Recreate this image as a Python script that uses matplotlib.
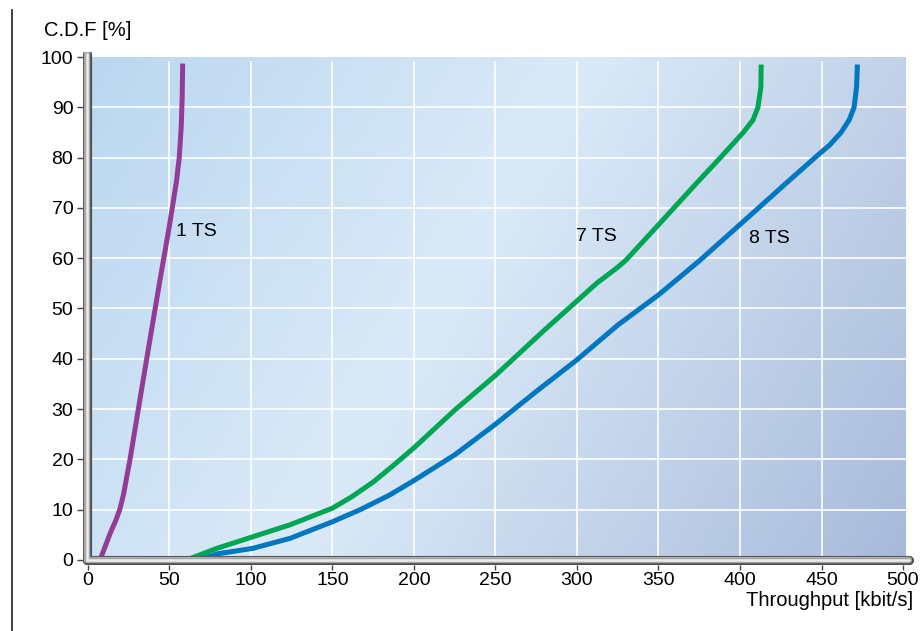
import numpy as np
import matplotlib.pyplot as plt
from matplotlib.lines import Line2D

plt.rcParams['font.family'] = ['Liberation Sans', 'DejaVu Sans']

# data
ts1_x = [7.4, 10, 13.5, 17, 19.5, 21.8, 23.5, 25.8, 35, 44.2, 50, 54.4, 56, 57.2, 57.8, 58.1]
ts1_y = [0, 2.2, 5.2, 7.8, 10, 13, 16, 20, 38, 55.7, 66.5, 75.5, 80, 86, 92, 98.7]

ts7_x = [60.5, 79, 101, 124, 150, 162, 175, 187, 200, 225, 250, 280, 300, 312, 325, 330,
         351, 375, 388, 402, 408, 411, 412.8, 413]
ts7_y = [0, 2.3, 4.6, 7, 10.3, 12.6, 15.5, 18.7, 22.3, 29.8, 36.7, 45.7, 51.5, 55, 58.2, 59.6,
         67, 75.5, 80, 85, 87.5, 90, 94, 98.5]

ts8_x = [68.5, 79, 101, 124, 150, 167, 185, 200, 225, 250, 275, 300, 325, 350, 375.5,
         404.5, 428.6, 446, 455, 462, 467, 470, 471.5, 472]
ts8_y = [0, 1.2, 2.3, 4.3, 7.6, 10, 12.9, 15.8, 20.9, 27, 33.5, 39.8, 46.7, 52.7, 59.6,
         68, 75, 80, 82.5, 85, 87.5, 90, 94, 98.5]

series = [(ts1_x, ts1_y, '#923C98', '1 TS', (54, 65.3), 'left'),
          (ts7_x, ts7_y, '#00A651', '7 TS', (312, 64.4), 'center'),
          (ts8_x, ts8_y, '#0077C0', '8 TS', (418, 64), 'center')]

xticks = [0, 50, 100, 150, 200, 250, 300, 350, 400, 450, 500]
yticks = [0, 10, 20, 30, 40, 50, 60, 70, 80, 90, 100]

fig = plt.figure(figsize=(9.23, 6.31), dpi=100)
ax = fig.add_axes([0.090, 0.1046, 0.9007, 0.813])
ax.set_xlim(-3, 507)
ax.set_ylim(-1, 101)

# gradient background, running from top-left to bottom-right in pixel space
nx, ny = 400, 250
px, py = np.meshgrid(np.linspace(0, 814, nx), np.linspace(0, 498, ny))
t = (px * 814 + py * 498) / (814 ** 2 + 498 ** 2)
stops = [0.0, 0.45, 1.0]
cols = np.array([[0xBA, 0xD7, 0xF0], [0xDB, 0xEA, 0xF8], [0xA8, 0xBA, 0xDB]]) / 255
img = np.zeros((ny, nx, 3))
for k in range(3):
    img[..., k] = np.interp(t, stops, cols[:, k])
ax.imshow(img, extent=(0, 501.5, 0, 100), aspect='auto', zorder=0)

# grid
for xv in xticks[1:-1]:
    ax.plot([xv, xv], [0, 99], color='white', lw=1.2, zorder=1)
for yv in yticks[1:-1]:
    ax.plot([0, 501.5], [yv, yv], color='white', lw=1.2, zorder=1)

# curves
for xs, ys, col, lab, pos, ha in series:
    ax.plot(xs, ys, color=col, lw=3.6, solid_capstyle='butt', solid_joinstyle='round', zorder=3)
    ax.text(pos[0], pos[1], lab, fontsize=14, ha=ha, va='center', zorder=4)

# 3D-looking axis bars
for (xx, yy) in [([-0.5, -0.5], [0, 100.7]), ([-0.5, 503.4], [0, 0])]:
    ax.plot(xx, yy, color='#4d4d4d', lw=6.6, solid_capstyle='round', zorder=5)
    ax.plot(xx, yy, color='#a8a8a8', lw=4.6, solid_capstyle='round', zorder=6)
    ax.plot(xx, yy, color='#ececec', lw=1.8, solid_capstyle='round', zorder=7)

for s in ax.spines.values():
    s.set_visible(False)
ax.set_xticks(xticks)
ax.set_yticks(yticks)
ax.tick_params(axis='both', length=4, width=1, color='#444444', labelsize=14)
ax.tick_params(axis='y', pad=3)
ax.tick_params(axis='x', length=3.5, pad=1.5)

fig.text(44 / 923, 1 - 36 / 631, 'C.D.F [%]', fontsize=14.5, va='baseline', ha='left')
fig.text(913 / 923, 1 - 606 / 631, 'Throughput [kbit/s]', fontsize=14.5, va='baseline', ha='right')
fig.add_artist(Line2D([12 / 923, 12 / 923], [0, 1 - 10 / 631], color='#333333', lw=1.3))

fig.savefig('out.png', dpi=100)
